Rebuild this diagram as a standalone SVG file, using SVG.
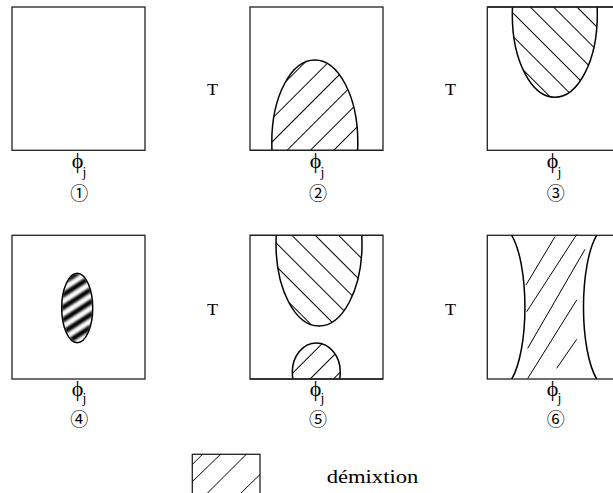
<svg xmlns="http://www.w3.org/2000/svg" width="613" height="493" viewBox="0 0 613 493">
<style>
.box{fill:#fff;stroke:#222;stroke-width:1.3}
.edge{stroke:#000;stroke-width:1.5}
.hl{stroke:#000;stroke-width:1;fill:none}
.t{font-family:"Liberation Serif","Times New Roman",serif;font-size:16px;fill:#000}
.phi{font-family:"Liberation Serif","DejaVu Serif",serif;font-size:22px;fill:#000}
.sub{font-family:"Liberation Serif","DejaVu Serif",serif;font-size:14px;fill:#000}
.num{font-family:"Noto Sans CJK JP","DejaVu Sans",sans-serif;font-size:18px;fill:#000}
</style>
<defs>
<pattern id="fw2" patternUnits="userSpaceOnUse" width="16.5" height="16.5" x="4.02" patternTransform="rotate(45)"><line class="hl" x1="8.25" y1="-1" x2="8.25" y2="17.5"/></pattern>
<pattern id="fw5" patternUnits="userSpaceOnUse" width="16.5" height="16.5" x="0.52" patternTransform="rotate(45)"><line class="hl" x1="8.25" y1="-1" x2="8.25" y2="17.5"/></pattern>
<pattern id="bk" patternUnits="userSpaceOnUse" width="16.5" height="16.5" x="-1.25" patternTransform="rotate(-45)"><line class="hl" x1="8.25" y1="-1" x2="8.25" y2="17.5"/></pattern>
<pattern id="stripe" patternUnits="userSpaceOnUse" width="12" height="10.5" patternTransform="translate(77,308) rotate(-33)"><rect x="0" y="0" width="12" height="5" fill="#000"/></pattern>
<filter id="soft" x="-20%" y="-20%" width="140%" height="140%"><feGaussianBlur stdDeviation="0.8"/></filter>
<clipPath id="c1"><rect x="250" y="7" width="133" height="143.3"/></clipPath>
<clipPath id="c3"><rect x="487.3" y="7" width="133" height="143.3"/></clipPath>
<clipPath id="c5"><rect x="250" y="235.3" width="133" height="143.7"/></clipPath>
<clipPath id="c4"><ellipse cx="77.2" cy="308" rx="15.5" ry="34.7"/></clipPath>
</defs>

<g id="panel1">
<rect class="box" x="12" y="7" width="133" height="143.3"/>
</g>

<g id="panel2">
<rect class="box" x="250" y="7" width="133" height="143.3"/>
<g clip-path="url(#c1)">
<ellipse cx="314.8" cy="142" rx="43" ry="82" fill="url(#fw2)" class="edge"/>
</g>
<line x1="250" y1="150.3" x2="383" y2="150.3" stroke="#222" stroke-width="1.3"/>
</g>

<g id="panel3">
<rect class="box" x="487.3" y="7" width="133" height="143.3"/>
<g clip-path="url(#c3)">
<ellipse cx="554.8" cy="15" rx="42.5" ry="82.3" fill="url(#bk)" class="edge"/>
</g>
<line x1="487.3" y1="7" x2="613" y2="7" stroke="#222" stroke-width="1.3"/>
</g>

<g id="panel4">
<rect class="box" x="12" y="235.3" width="133" height="143.7"/>
<ellipse cx="77.2" cy="308" rx="15.5" ry="34.7" fill="url(#stripe)" filter="url(#soft)" clip-path="url(#c4)"/>
<ellipse cx="77.2" cy="308" rx="15.5" ry="34.7" class="edge" fill="none"/>
</g>

<g id="panel5">
<rect class="box" x="250" y="235.3" width="133" height="143.7"/>
<g clip-path="url(#c5)">
<ellipse cx="319" cy="244" rx="43" ry="82" fill="url(#bk)" class="edge"/>
<ellipse cx="316.3" cy="372" rx="24" ry="29" fill="url(#fw5)" class="edge"/>
</g>
<line x1="250" y1="235.3" x2="383" y2="235.3" stroke="#222" stroke-width="1.3"/>
<line x1="250" y1="379" x2="383" y2="379" stroke="#222" stroke-width="1.3"/>
</g>

<g id="panel6">
<rect class="box" x="487.3" y="235.3" width="133" height="143.7"/>
<path class="edge" fill="none" d="M511.7,235.3 A23.6,80 0 0 1 511.7,379"/>
<path class="edge" fill="none" d="M596.7,235.3 A23.6,80 0 0 0 596.7,379"/>
<g class="hl">
<line x1="526" y1="285" x2="555" y2="236.7"/>
<line x1="526.7" y1="311.7" x2="576.7" y2="234.5"/>
<line x1="527.7" y1="348.3" x2="585" y2="249.3"/>
<line x1="527.7" y1="378.5" x2="576.7" y2="300"/>
<line x1="556.7" y1="368.3" x2="576.7" y2="339.3"/>
</g>
</g>

<g id="labels">
<text class="t" x="207" y="95" textLength="11" lengthAdjust="spacingAndGlyphs">T</text>
<text class="t" x="445" y="95" textLength="11" lengthAdjust="spacingAndGlyphs">T</text>
<text class="t" x="207" y="315" textLength="11" lengthAdjust="spacingAndGlyphs">T</text>
<text class="t" x="445" y="315" textLength="11" lengthAdjust="spacingAndGlyphs">T</text>

<text class="phi" x="77.5" y="168" text-anchor="middle">ϕ</text>
<text class="sub" x="82.5" y="177">j</text>
<text class="phi" x="315.5" y="168" text-anchor="middle">ϕ</text>
<text class="sub" x="320.5" y="177">j</text>
<text class="phi" x="552.5" y="168" text-anchor="middle">ϕ</text>
<text class="sub" x="557.5" y="177">j</text>

<text class="phi" x="77.5" y="396" text-anchor="middle">ϕ</text>
<text class="sub" x="82.5" y="403">j</text>
<text class="phi" x="315.5" y="396" text-anchor="middle">ϕ</text>
<text class="sub" x="320.5" y="403">j</text>
<text class="phi" x="552.5" y="396" text-anchor="middle">ϕ</text>
<text class="sub" x="557.5" y="403">j</text>

<text class="num" x="79.3" y="200" text-anchor="middle">①</text>
<text class="num" x="318" y="200" text-anchor="middle">②</text>
<text class="num" x="555.8" y="200" text-anchor="middle">③</text>
<text class="num" x="79.3" y="425.5" text-anchor="middle">④</text>
<text class="num" x="318" y="425.5" text-anchor="middle">⑤</text>
<text class="num" x="555.8" y="425.5" text-anchor="middle">⑥</text>
</g>

<g id="legend">
<rect class="box" x="192.3" y="454.3" width="67.7" height="50"/>
<g class="hl">
<line x1="192.3" y1="464.5" x2="202.5" y2="454.3"/>
<line x1="192.3" y1="481.7" x2="220.5" y2="454.3"/>
<line x1="207" y1="493.5" x2="246.3" y2="454.3"/>
<line x1="240.5" y1="493.5" x2="260" y2="474.5"/>
</g>
<text class="t" x="326.7" y="483" textLength="91.6" lengthAdjust="spacingAndGlyphs" style="font-size:18px">démixtion</text>
</g>
</svg>
